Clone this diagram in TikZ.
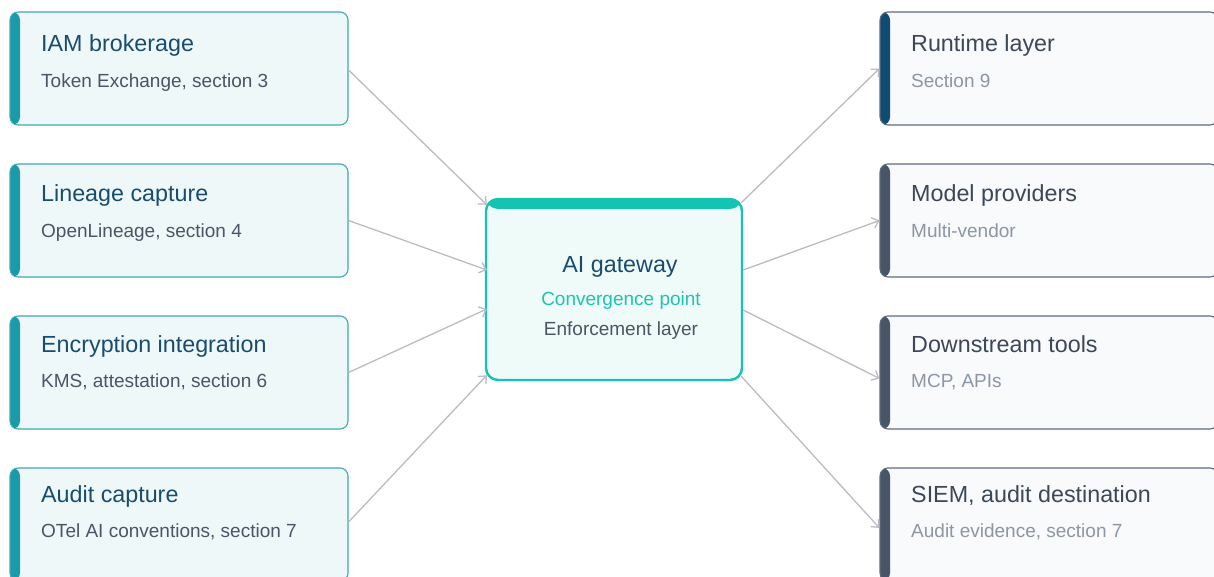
\documentclass[tikz,border=0pt]{standalone}
\usepackage{fontspec}
\setmainfont{Liberation Sans}
\usetikzlibrary{arrows.meta,calc}
\definecolor{lacc}{HTML}{1B9AAA}
\definecolor{lbord}{HTML}{3FA9B5}
\definecolor{lfill}{HTML}{EEF8F9}
\definecolor{ltitle}{HTML}{1A4C6E}
\definecolor{lsub}{HTML}{4A5565}
\definecolor{racc}{HTML}{475569}
\definecolor{raccb}{HTML}{0F4C75}
\definecolor{rbord}{HTML}{5F6B7D}
\definecolor{rfill}{HTML}{F8FAFC}
\definecolor{rtitle}{HTML}{3C4858}
\definecolor{rsub}{HTML}{8D96A3}
\definecolor{gteal}{HTML}{14C4B2}
\definecolor{gfill}{HTML}{EFFBF9}
\definecolor{gsub}{HTML}{1FC4B0}
\definecolor{arr}{HTML}{B9BCC2}
\tikzset{
  card/.style n args={3}{rectangle, rounded corners=8pt, minimum width=338pt, minimum height=113pt,
    draw=#2, fill=#3, line width=1.1pt, inner sep=0pt,
    path picture={\fill[#1] (path picture bounding box.north west) rectangle ([xshift=10pt]path picture bounding box.south west);}},
  lcard/.style={card={lacc}{lbord}{lfill}},
  rcard/.style={card={#1}{rbord}{rfill}},
  ttl/.style={anchor=base west, inner sep=0pt, font=\fontsize{23.3}{27}\selectfont},
  sub/.style={anchor=base west, inner sep=0pt, font=\fontsize{19}{23}\selectfont},
  conn/.style={draw=arr, line width=1.3pt, -{Straight Barb[length=6pt,width=11pt]}},
}
\begin{document}
\begin{tikzpicture}[x=1pt,y=-1pt]
\useasboundingbox (0,0) rectangle (1214,577);
\begin{scope}
\clip (0,0) rectangle (1214,577);
% left cards
\node[lcard] (l1) at (179,68.5) {};
\node[lcard] (l2) at (179,220.5) {};
\node[lcard] (l3) at (179,372.5) {};
\node[lcard] (l4) at (179,524.5) {};
% right cards
\node[rcard=raccb] (r1) at (1049,68.5) {};
\node[rcard=racc] (r2) at (1049,220.5) {};
\node[rcard=racc] (r3) at (1049,372.5) {};
\node[rcard=racc] (r4) at (1049,524.5) {};
% gateway
\node[rectangle, rounded corners=12pt, minimum width=256pt, minimum height=181pt, draw=gteal, fill=gfill, line width=2.4pt, inner sep=0pt,
  path picture={\fill[gteal] (path picture bounding box.north west) rectangle ([yshift=-10pt]path picture bounding box.north east);}] (gw) at (614,289.5) {};
\end{scope}
% left texts
\node[ttl, text=ltitle] (l1t) at (41,52) {IAM brokerage};
\node[sub, text=lsub] (l1s) at (41,87.5) {Token Exchange, section 3};
\node[ttl, text=ltitle] (l2t) at (41,202) {Lineage capture};
\node[sub, text=lsub] (l2s) at (41,237.5) {OpenLineage, section 4};
\node[ttl, text=ltitle] (l3t) at (41,352) {Encryption integration};
\node[sub, text=lsub] (l3s) at (41,387.5) {KMS, attestation, section 6};
\node[ttl, text=ltitle] (l4t) at (41,502) {Audit capture};
\node[sub, text=lsub] (l4s) at (41,537.5) {OTel AI conventions, section 7};
% right texts
\node[ttl, text=rtitle] (r1t) at (911,52) {Runtime layer};
\node[sub, text=rsub] (r1s) at (911,87.5) {Section 9};
\node[ttl, text=rtitle] (r2t) at (911,202) {Model providers};
\node[sub, text=rsub] (r2s) at (911,237.5) {Multi-vendor};
\node[ttl, text=rtitle] (r3t) at (911,352) {Downstream tools};
\node[sub, text=rsub] (r3s) at (911,387.5) {MCP, APIs};
\node[ttl, text=rtitle] (r4t) at (911,502) {SIEM, audit destination};
\node[sub, text=rsub] (r4s) at (911,537.5) {Audit evidence, section 7};
% gateway texts
\node[anchor=base, inner sep=0pt, text=ltitle, font=\fontsize{23.3}{27}\selectfont] (gwt) at (620,272) {AI gateway};
\node[anchor=base, inner sep=0pt, text=gsub, font=\fontsize{19}{23}\selectfont] (gws1) at (621,305) {Convergence point};
\node[anchor=base, inner sep=0pt, text=lsub, font=\fontsize{19}{23}\selectfont] (gws2) at (621,335) {Enforcement layer};
% connectors
\draw[conn] ($(l1.east)+(0,1.5)$) -- ($(gw.north west)+(2,7)$);
\draw[conn] (l2.east) -- ($(gw.west)+(2,-19.5)$);
\draw[conn] (l3.east) -- ($(gw.west)+(2,19.5)$);
\draw[conn] ($(l4.east)+(0,-2.5)$) -- ($(gw.south west)+(2,-6)$);
\draw[conn] ($(gw.north east)+(-2,5)$) -- (r1.west);
\draw[conn] ($(gw.east)+(0,-19.5)$) -- (r2.west);
\draw[conn] ($(gw.east)+(0,20.5)$) -- ($(r3.west)+(0,6)$);
\draw[conn] ($(gw.south east)+(-2,-5)$) -- ($(r4.west)+(0,3.5)$);
\end{tikzpicture}
\end{document}
